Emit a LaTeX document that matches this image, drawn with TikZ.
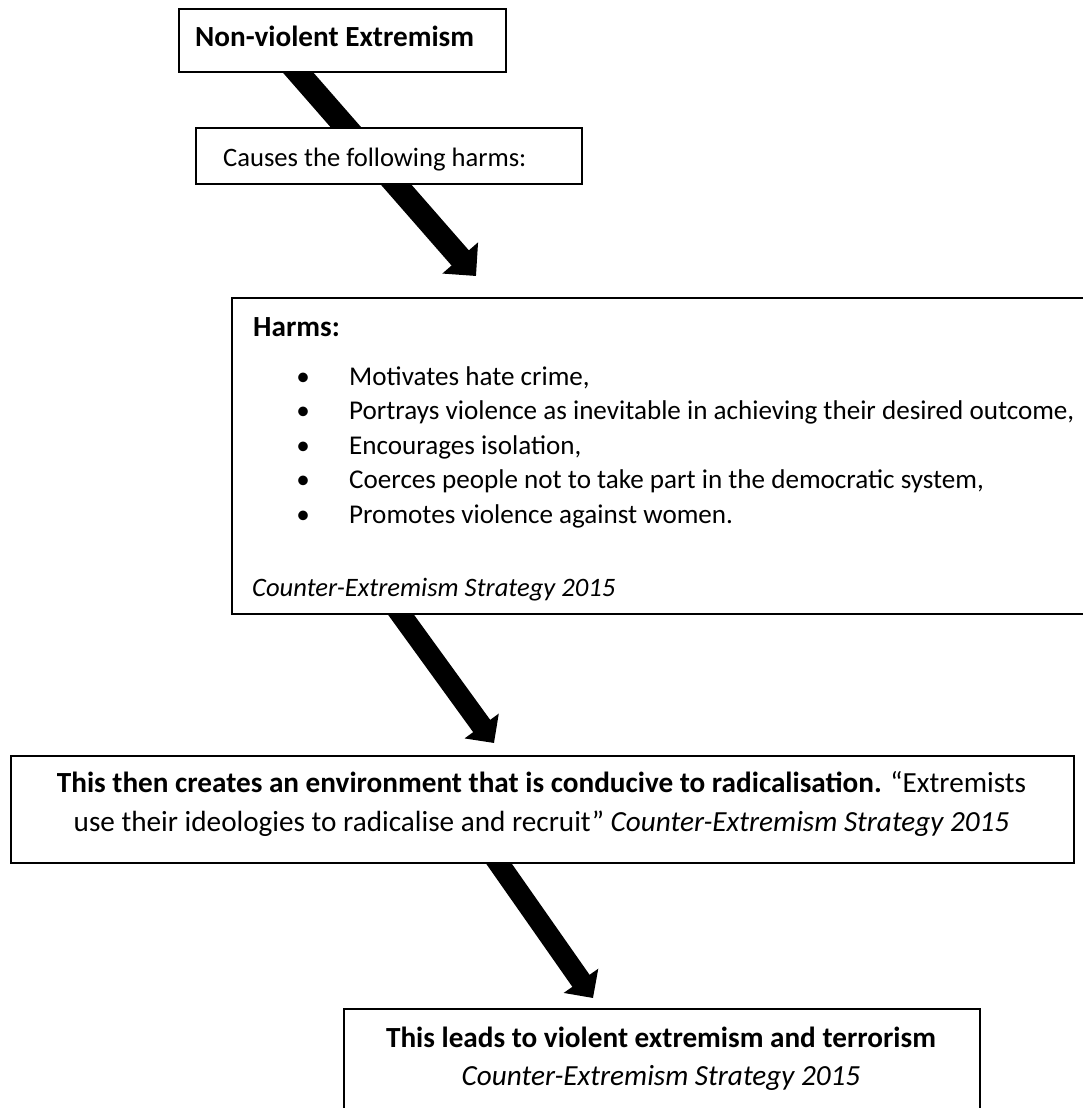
\documentclass[tikz,border=0pt]{standalone}
\usepackage{fontspec}
\setmainfont{Carlito}
\usetikzlibrary{arrows.meta,calc,backgrounds}
\begin{document}
\begin{tikzpicture}[x=1pt,y=-1pt,
  box/.style={draw=black, line width=2.3pt, fill=white, rectangle, inner sep=0pt, anchor=north west},
  txt/.style={inner sep=0pt, font=\fontsize{26.6}{32}\selectfont},
  bigtxt/.style={inner sep=0pt, font=\fontsize{29.2}{35}\selectfont},
  listtxt/.style={inner sep=0pt, font=\fontsize{27.1}{33}\selectfont},
  flow/.style={line width=21pt, -{Triangle[length=21pt,width=41pt]}},
]
\useasboundingbox (0,0) rectangle (1083,1108);
\clip (0,0) rectangle (1083,1108);

% frames
\node[box, minimum width=327pt, minimum height=63pt]  (nve)    at (178,8)    {};
\node[box, minimum width=386pt, minimum height=56pt]  (causes) at (195,127)  {};
\node[box, minimum width=870pt, minimum height=316pt] (harms)  at (231,297)  {};
\node[box, minimum width=1063pt, minimum height=107pt] (env)   at (10,755)   {};
\node[box, minimum width=636pt, minimum height=130pt] (leads)  at (343,1008) {};

% texts
\node[bigtxt, anchor=base west] (nvetxt) at (195,47) {\bfseries Non-violent Extremism};
\node[txt, anchor=base west] (causestxt) at (223,166) {Causes the following harms:};

\node[bigtxt, anchor=base west] (harmshead) at (253,336) {\bfseries Harms:};
\foreach \i/\t in {0/{Motivates hate crime,},
                   1/{Portrays violence as inevitable in achieving their desired outcome,},
                   2/{Encourages isolation,},
                   3/{Coerces people not to take part in the democratic system,},
                   4/{Promotes violence against women.}} {
  \node[listtxt, anchor=base] (bul\i) at (303,385+34.5*\i) {•};
  \node[listtxt, anchor=base west] (item\i) at (349,385+34.5*\i) {\t};
}
\node[txt, anchor=base west] (harmssrc) at (252,596) {\itshape Counter-Extremism Strategy 2015};

\node[bigtxt, anchor=base] (envone) at (541.5,792)
  {\bfseries This then creates an environment that is conducive to radicalisation.\mdseries{} “Extremists};
\node[bigtxt, anchor=base] (envtwo) at (541.5,831)
  {use their ideologies to radicalise and recruit” \itshape Counter-Extremism Strategy 2015};

\node[bigtxt, anchor=base] (leadsone) at (661,1047) {\bfseries This leads to violent extremism and terrorism};
\node[bigtxt, anchor=base] (leadstwo) at (661,1085) {\itshape Counter-Extremism Strategy 2015};

% block arrows, behind the white frames
\begin{scope}[on background layer]
  \draw[flow, line width=23pt, -{Triangle[length=24pt,width=46pt]}]
    ($(nve.south west)+(112,-10)$) -- ($(harms.north west)+(245,-21)$);
  \draw[flow] ($(harms.south west)+(161,-13)$) -- ($(env.north west)+(484,-12)$);
  \draw[flow] ($(env.south west)+(481,-12)$) -- ($(leads.north west)+(250,-10)$);
\end{scope}
\end{tikzpicture}
\end{document}
